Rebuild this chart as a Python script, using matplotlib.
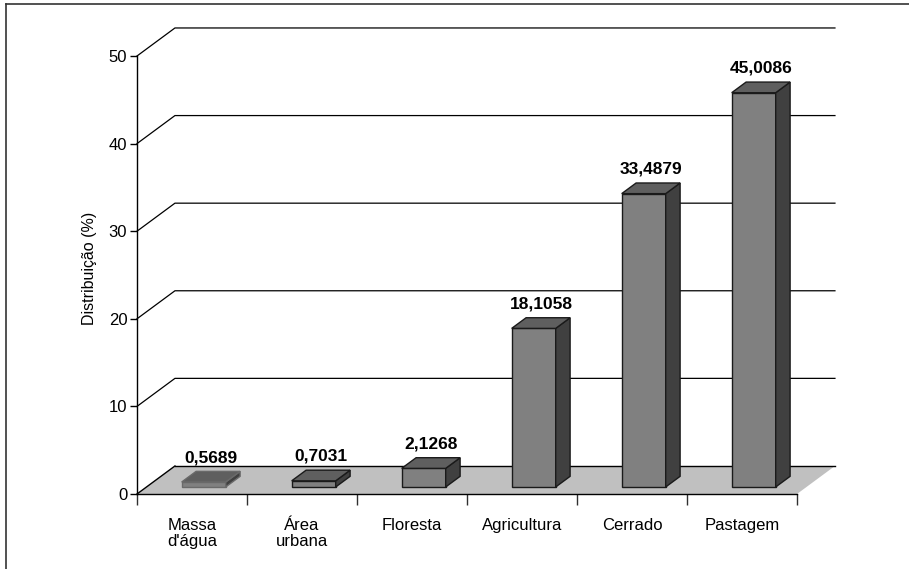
import matplotlib
matplotlib.use('Agg')
from matplotlib import pyplot as plt
from matplotlib.patches import Polygon
from matplotlib.lines import Line2D
import numpy as np

plt.rcParams['font.family'] = ['Liberation Sans', 'DejaVu Sans']

categorias = ['Massa\nd\'água', 'Área\nurbana', 'Floresta', 'Agricultura', 'Cerrado', 'Pastagem']
valores = [0.5689, 0.7031, 2.1268, 18.1058, 33.4879, 45.0086]
rotulos = ['0,5689', '0,7031', '2,1268', '18,1058', '33,4879', '45,0086']
yticks = [0, 10, 20, 30, 40, 50]

# profundidade do "3D" em unidades de dados (x em categorias, y em %)
DX, DY = 0.345, 3.2
Z0, Z1 = 0.25, 0.63        # fração da profundidade ocupada pelas barras
B0, B1 = 0.32, 0.72        # posição da face frontal dentro da categoria

def proj(x, y, z):
    return (x + z * DX, y + z * DY)

fig = plt.figure(figsize=(9.09, 5.69), dpi=100)
ax = fig.add_axes([137 / 909, 75 / 569, 660 / 909, 438 / 569])
n = len(categorias)
ax.set_xlim(0, n)
ax.set_ylim(0, 50)

# piso
piso = Polygon([proj(0, 0, 0), proj(n, 0, 0), proj(n, 0, 1), proj(0, 0, 1)],
               closed=True, facecolor='#c0c0c0', edgecolor='none', clip_on=False, zorder=1)
ax.add_patch(piso)
ax.add_line(Line2D(*zip(proj(0, 0, 0), proj(0, 0, 1)), color='k', lw=1, clip_on=False, zorder=2))
ax.add_line(Line2D(*zip(proj(0, 0, 1), proj(n, 0, 1)), color='k', lw=1, clip_on=False, zorder=2))

# linhas de grade na parede do fundo
for t in yticks[1:]:
    xs, ys = zip(proj(0, t, 0), proj(0, t, 1), proj(n, t, 1))
    ax.add_line(Line2D(xs, ys, color='k', lw=0.9, clip_on=False, zorder=1))

# barras
for i, v in enumerate(valores):
    x0, x1 = i + B0, i + B1
    ec = '#6a6a6a' if i == 0 else '#1a1a1a'
    frente = [proj(x0, 0, Z0), proj(x1, 0, Z0), proj(x1, v, Z0), proj(x0, v, Z0)]
    lado = [proj(x1, 0, Z0), proj(x1, 0, Z1), proj(x1, v, Z1), proj(x1, v, Z0)]
    topo = [proj(x0, v, Z0), proj(x1, v, Z0), proj(x1, v, Z1), proj(x0, v, Z1)]
    for pts, fc in ((frente, '#808080'), (lado, '#404040'), (topo, '#5f5f5f')):
        ax.add_patch(Polygon(pts, closed=True, facecolor=fc, edgecolor=ec,
                             lw=1, clip_on=False, zorder=3 + i))
    cx, cy = proj((x0 + x1) / 2, v, (Z0 + Z1) / 2)
    ax.annotate(rotulos[i], (cx, cy), xytext=(0, 10.5), textcoords='offset points',
                ha='center', va='baseline', fontsize=12.5, fontweight='bold', zorder=20,
                annotation_clip=False)

# eixos
for s in ('top', 'right'):
    ax.spines[s].set_visible(False)
ax.spines['left'].set_linewidth(1)
ax.spines['bottom'].set_linewidth(1)
ax.spines['left'].set_zorder(2)
ax.spines['bottom'].set_zorder(2)
ax.set_yticks(yticks)
ax.set_yticklabels([str(t) for t in yticks])
ax.tick_params(axis='y', direction='out', length=5, width=1, labelsize=12, pad=2)
ax.set_xticks(np.arange(n + 1))
ax.set_xticklabels([])
ax.set_xticks(np.arange(n) + 0.5, minor=True)
ax.set_xticklabels(categorias, minor=True, fontsize=12, linespacing=1.15)
ax.tick_params(axis='x', which='major', direction='out', length=8, width=1, color='#303030')
ax.tick_params(axis='x', which='minor', length=0, pad=17)
ax.patch.set_visible(False)

ax.set_ylabel('Distribuição (%)', fontsize=11.5)
ax.yaxis.set_label_coords(-0.06, (494 - 268) / 438)

# moldura
fig.add_artist(Line2D([6 / 909, 6 / 909], [0, 1 - 4 / 569], color='#333333', lw=1.2))
fig.add_artist(Line2D([6 / 909, 1], [1 - 4 / 569, 1 - 4 / 569], color='#333333', lw=1.2))

fig.savefig('out.png', dpi=100)
